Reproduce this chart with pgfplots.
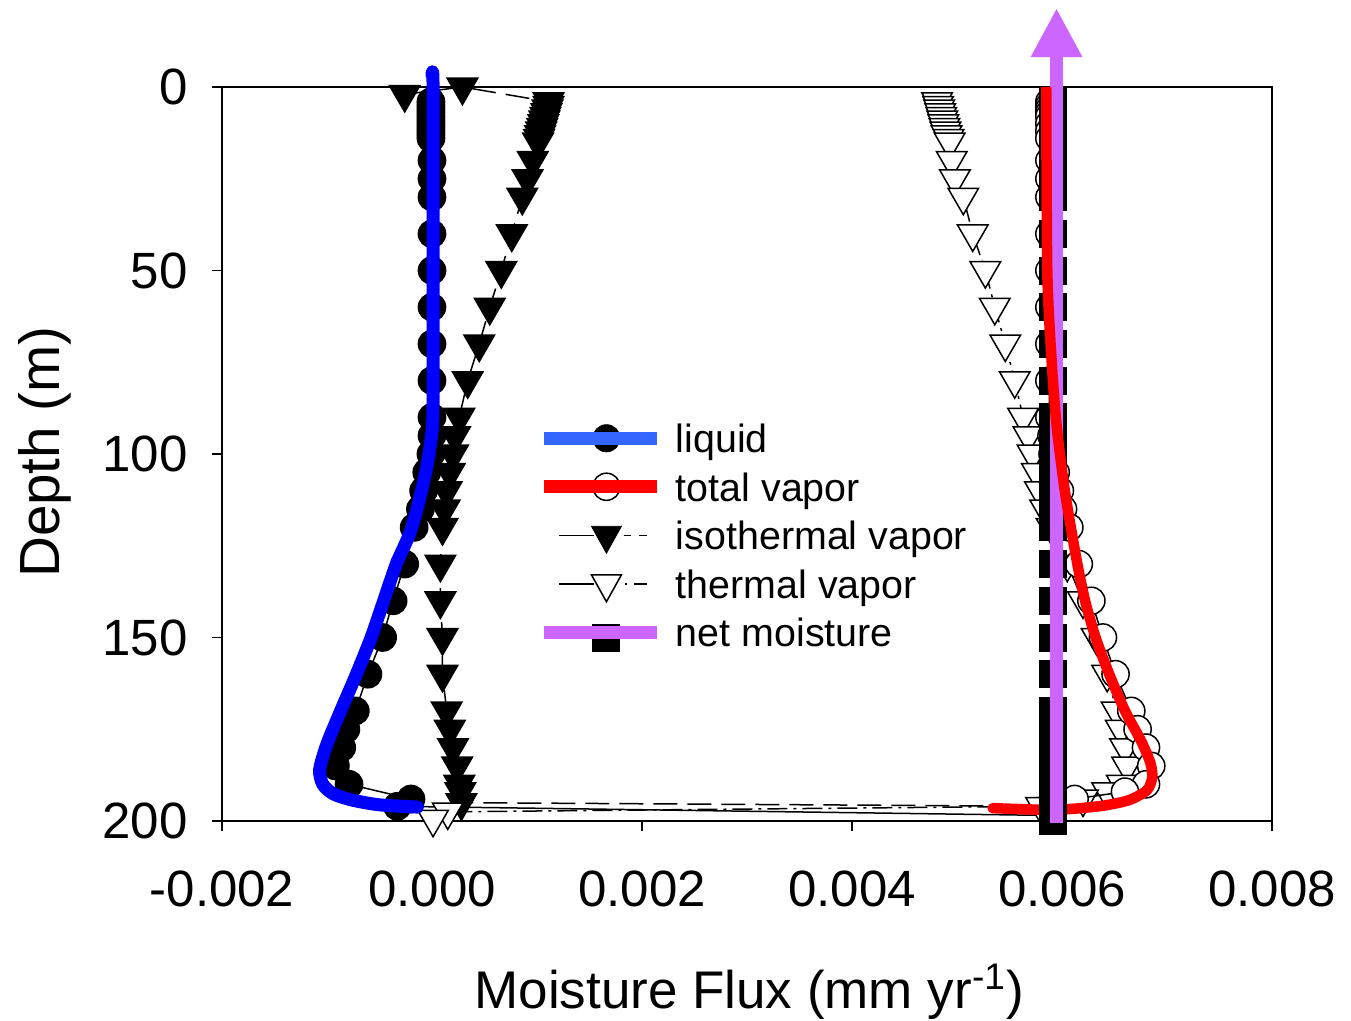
\documentclass[border=0pt]{standalone}
\usepackage{fontspec}
\setmainfont{Liberation Sans}
\usepackage{pgfplots}
\pgfplotsset{compat=1.18}
\usetikzlibrary{arrows.meta}
\definecolor{legblue}{RGB}{51,102,255}
\definecolor{plotblue}{RGB}{0,0,255}
\definecolor{netpurple}{RGB}{204,102,255}
\definecolor{plotred}{RGB}{255,0,0}
\begin{document}
\begin{tikzpicture}
\useasboundingbox (0,0) rectangle (675.5pt,510.5pt);
\begin{axis}[
  at={(111pt,100pt)}, anchor=south west,
  scale only axis, width=525pt, height=367pt,
  xmin=-0.002, xmax=0.008, ymin=0, ymax=200, y dir=reverse,
  clip=false, clip mode=individual, clip marker paths=true,
  scaled x ticks=false,
  xtick={-0.002,0,0.002,0.004,0.006,0.008},
  xticklabels={-0.002,0.000,0.002,0.004,0.006,0.008},
  ytick={0,50,100,150,200},
  yticklabels={0,50,100,150,200},
  tick align=outside, tick pos=left,
  major tick length=5pt,
  every tick/.style={black,line width=0.75pt},
  axis line style={line width=0.75pt},
  tick label style={font=\fontsize{25.5}{28}\selectfont, inner sep=0pt},
  xticklabel style={anchor=base, yshift=-37.5pt},
  yticklabel style={anchor=east, xshift=-12pt},
  xlabel={Moisture Flux (mm yr\textsuperscript{-1})},
  ylabel={Depth (m)},
  label style={inner sep=0pt},
  xlabel style={font=\fontsize{26.5}{30}\selectfont, at={(axis description cs:0.502,-0.2548)}, anchor=base},
  ylabel style={font=\fontsize{28.3}{32}\selectfont, at={(axis description cs:-0.1543,0.5027)}, anchor=base},
  legend style={at={(0.3009,0.551)}, anchor=north west, draw=none, fill=none,
    inner sep=0pt, outer sep=0pt, row sep=2.55pt, column sep=6pt,
    font=\fontsize{19.7}{22}\selectfont,
    nodes={inner sep=0pt, text height=18pt, text depth=3.7pt}},
  legend cell align=left,
]
% liquid (circles)
\addplot[black, line width=0.75pt, mark=*, mark size=6.8pt, mark options={solid, fill=black}, forget plot] coordinates {
(-0.00001,4) (-0.00001,5) (-0.00001,6) (-0.00001,7) (-0.00001,8) (-0.00001,9) (-0.00001,10) (-0.00001,11) (-0.00001,12) (-0.00001,13) (-0.00001,14)
(0,20) (0,25) (0,30) (0,40) (0,50) (0,60) (0,70) (0,80) (0,90) (0,95) (-0.00001,100) (-0.00005,105)
(-0.00008,110) (-0.00011,115) (-0.00017,120) (-0.00026,130) (-0.00037,140) (-0.00047,150) (-0.00061,160)
(-0.00073,170) (-0.00082,175) (-0.00086,180) (-0.00092,185) (-0.00079,190) (-0.0002,194) (-0.00033,196) (0.00591,198.5)};
% isothermal vapor
\addplot[black, line width=0.75pt, dash pattern=on 12pt off 5pt, mark=triangle*, mark size=8.8pt, mark options={solid, rotate=180, fill=black}, forget plot] coordinates {
(-0.00026,2) (0.00029,0) (0.00111,4) (0.00111,5) (0.0011,6) (0.00109,7) (0.00108,8) (0.00107,9) (0.00106,10) (0.00105,11) (0.00104,12) (0.00103,13) (0.00102,14) (0.00101,15)
(0.00096,20) (0.00091,25) (0.00086,30) (0.00076,40) (0.00066,50) (0.00055,60) (0.00045,70) (0.00034,80) (0.00026,90)
(0.00022,95) (0.0002,100) (0.00017,105) (0.00014,110) (0.00012,115) (0.0001,120) (0.00008,130) (0.00008,140) (0.0001,150)
(0.0001,160) (0.00014,170) (0.00017,175) (0.0002,180) (0.00024,185) (0.00026,190) (0.00027,192) (0.00028,195) (0.00591,196)};
% thermal vapor
\addplot[black, line width=0.75pt, dash pattern=on 10pt off 3pt on 1.5pt off 3pt, mark=triangle*, mark size=8.8pt, mark options={solid, rotate=180, fill=white, draw=black}, forget plot] coordinates {
(0.00481,4) (0.00482,5) (0.00483,6) (0.00484,7) (0.00485,8) (0.00486,9) (0.00487,10) (0.00488,11) (0.00489,12) (0.0049,13) (0.00492,14) (0.00493,15)
(0.00495,20) (0.00498,25) (0.00506,30) (0.00515,40) (0.00527,50) (0.00536,60) (0.00546,70) (0.00555,80) (0.00563,90)
(0.00568,95) (0.00572,100) (0.00576,105) (0.00579,110) (0.00584,115) (0.0059,120) (0.00605,130) (0.0062,140) (0.00633,150)
(0.00643,160) (0.00652,170) (0.00656,175) (0.0066,180) (0.00662,185) (0.00657,190) (0.00643,192) (0.0062,194) (0.0058,196)
(0.00015,197.5) (0.00001,199.5)};
% total vapor
\addplot[black, line width=0.75pt, mark=*, mark size=6.8pt, mark options={solid, fill=white, draw=black}, forget plot] coordinates {
(0.00588,4) (0.00588,5) (0.00588,6) (0.00588,7) (0.00588,8) (0.00588,10) (0.00588,12) (0.00588,14)
(0.00588,20) (0.00588,25) (0.00588,30) (0.00588,40) (0.00588,50) (0.00588,60) (0.00588,70) (0.00588,80) (0.00588,90)
(0.0059,95) (0.00591,100) (0.00594,105) (0.00598,110) (0.00601,115) (0.00607,120) (0.00616,130) (0.00628,140) (0.00639,150)
(0.00651,160) (0.00666,170) (0.00672,175) (0.0068,180) (0.00685,185) (0.0068,190) (0.0066,192) (0.00612,194)};
% total vapor curve, lower end
\addplot[plotred, line width=5.25pt, line cap=round, forget plot] coordinates {(0.0061,196.7) (0.00585,197) (0.00534,196.5)};
% net moisture squares
\addplot[only marks, mark=square*, mark size=6.75pt, mark options={fill=black, draw=black}, forget plot] coordinates {
(0.00591,4) (0.00591,5) (0.00591,6) (0.00591,7) (0.00591,8) (0.00591,10) (0.00591,12) (0.00591,14)
(0.00591,20) (0.00591,25) (0.00591,30) (0.00591,40) (0.00591,50) (0.00591,60) (0.00591,70) (0.00591,80) (0.00591,90)
(0.00591,95) (0.00591,100) (0.00591,105) (0.00591,110) (0.00591,115) (0.00591,120) (0.00591,130) (0.00591,140) (0.00591,150)
(0.00591,160) (0.00591,170) (0.00591,175) (0.00591,180) (0.00591,185) (0.00591,190) (0.00591,192) (0.00591,194) (0.00591,196) (0.00591,198) (0.00591,200)};
% net moisture line with arrow
\addplot[netpurple, line width=6.5pt, -{Triangle[width=24pt,length=24.5pt]}, forget plot] coordinates {(0.005948,200.5) (0.005948,-21.5)};
% liquid curve
\addplot[plotblue, line width=6.5pt, line cap=round, line join=round, smooth, tension=0.45, forget plot] coordinates {
(0,-3.3) (0.00001,0) (0.00001,50) (0.00001,85) (0,94) (-0.00005,103.5) (-0.00012,112.5) (-0.00021,121.5) (-0.00034,130)
(-0.00046,140) (-0.00058,150) (-0.00072,160) (-0.00087,170) (-0.001,179) (-0.00107,186) (-0.00104,190)
(-0.00094,192.6) (-0.00076,194.3) (-0.0005,195.6) (-0.00014,196.2)};
% total vapor curve
\addplot[plotred, line width=5.25pt, line cap=butt, line join=round, smooth, tension=0.45, forget plot] coordinates {
(0.00585,0) (0.00586,50) (0.0059,74) (0.00595,92.6) (0.00603,110.6) (0.00614,129) (0.00622,140) (0.00632,150) (0.00645,160)
(0.0066,170) (0.00675,178) (0.00684,184) (0.00686,188) (0.00681,191.6) (0.00664,194.3) (0.0064,195.8) (0.0061,196.7)};
% legend
\addlegendimage{legend image code/.code={
  \fill[black] (31pt,0pt) circle (6.8pt);
  \draw[line width=6.5pt, legblue] (0pt,0pt) -- (56.5pt,0pt);}}
\addlegendentry{liquid}
\addlegendimage{legend image code/.code={
  \draw[black, fill=white, line width=0.75pt] (31pt,0pt) circle (6.8pt);
  \draw[line width=6.5pt, plotred] (0pt,0pt) -- (56.5pt,0pt);}}
\addlegendentry{total vapor}
\addlegendimage{legend image code/.code={
  \draw[black, line width=0.75pt] (7.5pt,0pt) -- (25pt,0pt) (40pt,0pt) -- (43.5pt,0pt) (47.5pt,0pt) -- (51.5pt,0pt);
  \fill[black] (23.5pt,4.5pt) -- (38.5pt,4.5pt) -- (31pt,-9pt) -- cycle;}}
\addlegendentry{isothermal vapor}
\addlegendimage{legend image code/.code={
  \draw[black, line width=0.75pt] (7.5pt,0pt) -- (25pt,0pt) (40.5pt,0pt) -- (41.5pt,0pt) (45pt,0pt) -- (51.5pt,0pt);
  \draw[black, fill=white, line width=0.75pt] (23.5pt,4.5pt) -- (38.5pt,4.5pt) -- (31pt,-9pt) -- cycle;}}
\addlegendentry{thermal vapor}
\addlegendimage{legend image code/.code={
  \fill[black] (24pt,-9.5pt) rectangle (37.5pt,4pt);
  \draw[line width=6.5pt, netpurple] (0pt,0pt) -- (56.5pt,0pt);}}
\addlegendentry{net moisture}
\end{axis}
\end{tikzpicture}
\end{document}
